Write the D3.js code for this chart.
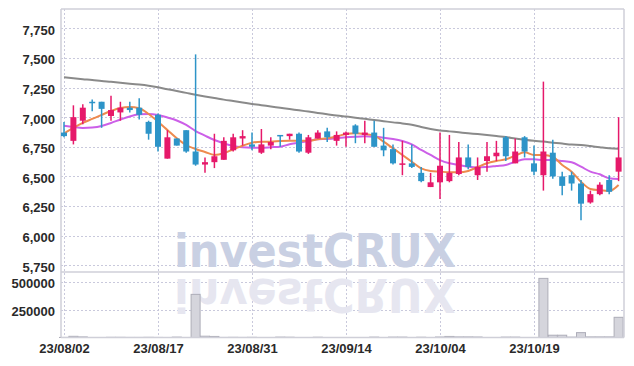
<!DOCTYPE html>
<html>
<head>
<meta charset="utf-8">
<script src="https://cdn.jsdelivr.net/npm/d3@7"></script>
<style>
  body { margin: 0; background: #fff; }
</style>
</head>
<body>
<div id="main"></div>
<script>
// dados
const dates = ["23/08/02","23/08/03","23/08/04","23/08/07","23/08/08","23/08/09","23/08/10","23/08/11","23/08/14","23/08/16",
  "23/08/17","23/08/18","23/08/21","23/08/22","23/08/23","23/08/24","23/08/25","23/08/28","23/08/29","23/08/30",
  "23/08/31","23/09/01","23/09/04","23/09/05","23/09/06","23/09/07","23/09/08","23/09/11","23/09/12","23/09/13",
  "23/09/14","23/09/15","23/09/18","23/09/19","23/09/20","23/09/21","23/09/22","23/09/25","23/09/26","23/09/27",
  "23/10/04","23/10/05","23/10/06","23/10/10","23/10/11","23/10/12","23/10/13","23/10/16","23/10/17","23/10/18",
  "23/10/19","23/10/20","23/10/23","23/10/24","23/10/25","23/10/26","23/10/27","23/10/30","23/10/31","23/11/01"];

const opens = [6870,6800,6970,7130,7130,7010,7040,7080,7080,6960, 7020,6650,6820,6890,6710,6600,6620,6640,6720,6820,
  6770,6700,6760,6850,6840,6860,6700,6820,6880,6800, 6850,6930,6850,6870,6760,6730,6600,6610,6530,6410,
  6450,6460,6520,6660,6510,6630,6670,6830,6610,6830, 6610,6510,6700,6500,6510,6440,6280,6350,6470,6540];
const highs = [6960,7100,7110,7150,7130,7180,7130,7130,7160,6970, 7030,6890,6820,6890,7530,6660,6860,6830,6860,6890,
  6870,6900,6830,6850,6860,6870,6850,6890,6910,6880, 6880,6940,6970,6970,6910,6770,6800,6770,6580,6530,
  6870,6850,6790,6770,6660,6790,6800,6840,6820,6840, 6760,7300,6810,6540,6540,6470,6380,6450,6510,7000];
const lows = [6830,6770,6940,7050,6910,6970,6970,7040,6980,6810, 6710,6650,6760,6700,6590,6530,6570,6640,6710,6760,
  6720,6690,6730,6750,6810,6700,6690,6820,6790,6760, 6750,6780,6780,6750,6670,6600,6510,6570,6450,6410,
  6310,6450,6510,6560,6470,6540,6630,6630,6610,6660, 6510,6380,6480,6340,6380,6130,6270,6340,6350,6460];
const closes = [6840,7000,7080,7120,7070,7060,7080,7060,7020,6860, 6750,6830,6760,6710,6600,6620,6670,6800,6830,6840,
  6750,6770,6790,6840,6860,6710,6830,6870,6830,6850, 6870,6860,6870,6750,6720,6610,6610,6580,6460,6450,
  6590,6530,6660,6580,6580,6670,6700,6670,6710,6710, 6540,6710,6500,6420,6440,6270,6350,6430,6370,6660];
const volumes = [5000,15000,10000,3000,4000,6000,6000,5000,5000,6000, 5000,3000,8000,3000,390000,16000,14000,5000,6000,5000,
  6000,4000,2000,8000,7000,3000,4000,7000,3000,2000, 3000,2000,3000,8000,3000,8000,8000,3000,7000,2000,
  9000,14000,10000,10000,9000,3000,2000,8000,8000,3000, 2000,533000,25000,25000,8000,48000,10000,10000,10000,185000];

// medias moveis (5, 10 e longa)
const ma5 = [6862,6909,6951,6985,7019,7052,7077,7086,7075,7027, 6962,6892,6822,6765,6731,6706,6681,6695,6729,6759,
  6784,6793,6793,6799,6801,6801,6799,6813,6822,6837, 6858,6864,6858,6844,6793,6737,6681,6624,6568,6546,
  6540,6535,6535,6546,6579,6611,6630,6644,6675,6703, 6681,6681,6666,6596,6540,6455,6394,6383,6377,6427];
const ma10 = [6928,6917,6909,6913,6926,6951,6980,7006,7024,7027, 7018,6997,6972,6934,6883,6844,6807,6779,6757,6746,
  6742,6742,6746,6751,6771,6784,6799,6813,6816,6822, 6830,6835,6838,6835,6827,6816,6799,6771,6723,6681,
  6638,6611,6596,6582,6575,6580,6588,6596,6624,6644, 6644,6638,6638,6630,6619,6582,6540,6518,6484,6478];
const maLong = [7336,7329,7321,7314,7305,7298,7290,7283,7275,7265, 7252,7236,7221,7205,7189,7175,7162,7148,7136,7124,
  7112,7101,7090,7079,7068,7058,7047,7036,7025,7014, 7005,6996,6986,6976,6966,6956,6947,6936,6917,6900,
  6888,6880,6872,6864,6857,6849,6840,6832,6820,6809, 6800,6794,6785,6777,6769,6765,6756,6746,6737,6734];

const priceTicks = [5750,6000,6250,6500,6750,7000,7250,7500,7750];
const volumeTicks = [250000,500000];
const dateTicks = ["23/08/02","23/08/17","23/08/31","23/09/14","23/10/04","23/10/19"];

class CandleChart {
  constructor(config) {
    this.config = config;
    this.createSvg();
    this.createScales();
  }

  createSvg() {
    this.svg = d3.select(this.config.div)
      .append("svg")
      .attr("width", this.config.width)
      .attr("height", this.config.height);
  }

  createScales() {
    const c = this.config;
    this.x = d3.scalePoint().domain(dates).range([64, 618.6]);
    this.y = d3.scaleLinear().domain([5693, 7913]).range([c.priceBottom, c.top]);
    this.yVol = d3.scaleLinear().domain([0, 590000]).range([338, c.priceBottom]);
  }

  renderGrid() {
    const c = this.config;
    const grid = this.svg.append("g")
      .attr("stroke", "#c9c9dc")
      .attr("stroke-dasharray", "2,2")
      .attr("stroke-width", 1);

    grid.selectAll("line.hp")
      .data(priceTicks)
      .join("line")
      .attr("class", "hp")
      .attr("x1", c.left).attr("x2", c.right)
      .attr("y1", d => Math.round(this.y(d)) + 0.5)
      .attr("y2", d => Math.round(this.y(d)) + 0.5);

    grid.selectAll("line.hv")
      .data(volumeTicks)
      .join("line")
      .attr("class", "hv")
      .attr("x1", c.left).attr("x2", c.right)
      .attr("y1", d => Math.round(this.yVol(d)) + 0.5)
      .attr("y2", d => Math.round(this.yVol(d)) + 0.5);

    grid.selectAll("line.v")
      .data(dateTicks)
      .join("line")
      .attr("class", "v")
      .attr("x1", d => Math.round(this.x(d)) + 0.5)
      .attr("x2", d => Math.round(this.x(d)) + 0.5)
      .attr("y1", c.top).attr("y2", c.bottom);
  }

  renderWatermark() {
    const wm = this.svg.append("g")
      .style("font-family", "'DejaVu Sans', sans-serif")
      .style("font-size", "46px")
      .style("font-weight", "bold");

    // reflexo no painel de volume
    wm.append("text")
      .attr("x", 174)
      .attr("y", 267)
      .attr("transform", "translate(0,546) scale(1,-1)")
      .attr("textLength", 282)
      .attr("lengthAdjust", "spacingAndGlyphs")
      .attr("fill", "#e6e6f0")
      .text("investCRUX");

    wm.append("text")
      .attr("x", 174)
      .attr("y", 267)
      .attr("textLength", 282)
      .attr("lengthAdjust", "spacingAndGlyphs")
      .attr("fill", "#c9d0e3")
      .text("investCRUX");
  }

  renderVolume() {
    this.svg.append("g")
      .selectAll("rect")
      .data(dates)
      .join("rect")
      .attr("x", d => this.x(d) - 4.5)
      .attr("y", (d, i) => this.yVol(volumes[i]))
      .attr("width", 9)
      .attr("height", (d, i) => 337.5 - this.yVol(volumes[i]))
      .attr("fill", "#d5d5dc")
      .attr("stroke", "#adadb8")
      .attr("stroke-width", 1);
  }

  renderFrame() {
    const c = this.config;
    const f = this.svg.append("g").attr("stroke", "#cfcfd8").attr("stroke-width", 1.5);
    f.append("line").attr("x1", c.left).attr("x2", c.right).attr("y1", c.top).attr("y2", c.top);
    f.append("line").attr("x1", c.left).attr("x2", c.right).attr("y1", c.priceBottom).attr("y2", c.priceBottom);
    f.append("line").attr("x1", c.left).attr("x2", c.right).attr("y1", c.bottom).attr("y2", c.bottom);
    f.append("line").attr("x1", c.left).attr("x2", c.left).attr("y1", c.top).attr("y2", c.bottom);
    f.append("line").attr("x1", c.right).attr("x2", c.right).attr("y1", c.top).attr("y2", c.bottom);
  }

  renderLines() {
    const series = [
      { values: maLong, color: "#8a8a8a" },
      { values: ma10, color: "#cc5fe8" },
      { values: ma5, color: "#ee8a4e" }
    ];
    const line = values => d3.line()
      .x((d, i) => this.x(dates[i]))
      .y(d => this.y(d))
      .curve(d3.curveMonotoneX)(values);

    this.svg.append("g")
      .selectAll("path")
      .data(series)
      .join("path")
      .attr("d", d => line(d.values))
      .attr("fill", "none")
      .attr("stroke", d => d.color)
      .attr("stroke-width", 2);
  }

  renderCandles() {
    const up = "#e6196a", down = "#2d94c8";
    const col = i => closes[i] >= opens[i] ? up : down;

    const g = this.svg.append("g")
      .selectAll("g")
      .data(dates)
      .join("g");

    g.append("line")
      .attr("x1", d => this.x(d))
      .attr("x2", d => this.x(d))
      .attr("y1", (d, i) => this.y(highs[i]))
      .attr("y2", (d, i) => this.y(lows[i]))
      .attr("stroke", (d, i) => col(i))
      .attr("stroke-width", 1.5);

    g.append("rect")
      .attr("x", d => this.x(d) - 3)
      .attr("y", (d, i) => this.y(Math.max(opens[i], closes[i])))
      .attr("width", 6)
      .attr("height", (d, i) => Math.max(1.5, Math.abs(this.y(opens[i]) - this.y(closes[i]))))
      .attr("fill", (d, i) => col(i));
  }

  renderAxes() {
    const c = this.config;
    const yAxis = this.svg.append("g")
      .attr("transform", `translate(${c.left},0)`)
      .call(d3.axisLeft(this.y).tickValues(priceTicks).tickSize(0).tickPadding(6).tickFormat(d3.format(",")));

    const vAxis = this.svg.append("g")
      .attr("transform", `translate(${c.left},0)`)
      .call(d3.axisLeft(this.yVol).tickValues(volumeTicks).tickSize(0).tickPadding(6).tickFormat(d => d));

    const xAxis = this.svg.append("g")
      .attr("transform", `translate(0,${c.bottom})`)
      .call(d3.axisBottom(this.x).tickValues(dateTicks).tickSize(0).tickPadding(6));

    [yAxis, vAxis, xAxis].forEach(a => {
      a.select(".domain").remove();
      a.attr("font-family", "'Liberation Sans', Arial, sans-serif")
        .attr("font-size", 13)
        .attr("font-weight", "bold");
      a.selectAll("text").attr("fill", "#2a2a2a");
    });
    yAxis.selectAll("text").attr("dy", "0.45em");
    vAxis.selectAll("text").attr("dy", "0.45em");
  }

  render() {
    this.renderGrid();
    this.renderWatermark();
    this.renderVolume();
    this.renderFrame();
    this.renderLines();
    this.renderCandles();
    this.renderAxes();
  }
}

let config = { div: "#main", width: 634, height: 366, left: 61, right: 624, top: 9, priceBottom: 272, bottom: 337.5 };
let chart = new CandleChart(config);
chart.render();
</script>
</body>
</html>
